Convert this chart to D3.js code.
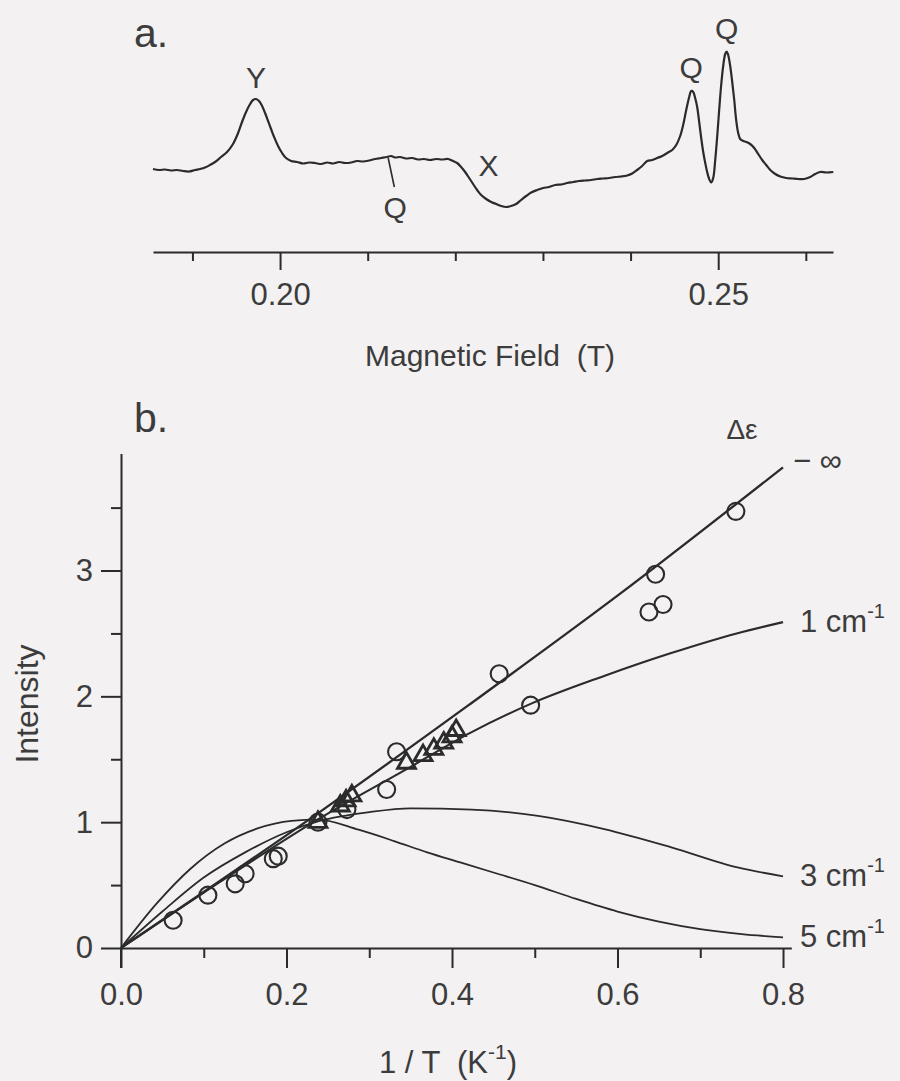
<!DOCTYPE html>
<html><head><meta charset="utf-8">
<script src="https://cdn.jsdelivr.net/npm/d3@7"></script>
<style>
body{margin:0;background:#f3f1f2;}
svg{display:block;background:#f3f1f2;}
text{font-family:"Liberation Sans",Arial,Helvetica,sans-serif;fill:#3c3c3c;white-space:pre;}
</style>
</head><body>
<svg id="chart" width="900" height="1081"></svg>
<script>
// ---------- Panel a: EPR spectrum ----------
const fieldT = [0.18550,0.18619,0.18687,0.18756,0.18824,0.18893,0.18961,0.19030,0.19087,0.19144,0.19201,0.19258,0.19326,0.19395,0.19463,0.19521,0.19566,0.19612,0.19658,0.19692,0.19726,0.19760,0.19795,0.19829,0.19863,0.19897,0.19932,0.19977,0.20023,0.20068,0.20126,0.20194,0.20263,0.20331,0.20400,0.20468,0.20537,0.20605,0.20674,0.20742,0.20811,0.20879,0.20947,0.21016,0.21084,0.21153,0.21221,0.21267,0.21313,0.21370,0.21438,0.21507,0.21575,0.21644,0.21712,0.21781,0.21849,0.21918,0.21975,0.22021,0.22066,0.22112,0.22158,0.22203,0.22249,0.22295,0.22352,0.22409,0.22466,0.22523,0.22580,0.22637,0.22694,0.22751,0.22808,0.22865,0.22934,0.23002,0.23071,0.23139,0.23208,0.23276,0.23345,0.23413,0.23482,0.23550,0.23619,0.23687,0.23756,0.23824,0.23893,0.23961,0.24018,0.24075,0.24132,0.24189,0.24247,0.24304,0.24361,0.24418,0.24475,0.24521,0.24566,0.24600,0.24635,0.24669,0.24692,0.24715,0.24737,0.24760,0.24783,0.24806,0.24829,0.24852,0.24874,0.24897,0.24920,0.24943,0.24966,0.24989,0.25011,0.25034,0.25057,0.25080,0.25097,0.25114,0.25137,0.25160,0.25183,0.25205,0.25228,0.25251,0.25285,0.25320,0.25365,0.25411,0.25457,0.25502,0.25548,0.25594,0.25651,0.25708,0.25776,0.25845,0.25913,0.25982,0.26050,0.26107,0.26164,0.26233,0.26313];
const signal = [1,0,0.5,-0.5,0,-1,-1.5,0,1,2.5,5,8,13,18,26,37,48,58,66,70,71,69,64,57,49,41,33,24,17,12,9,8,6.5,7.5,7,6,7.5,6.5,8,7,7.5,9,8.5,9.5,11,12,13,14,12.5,13,11.5,12,10.5,11,10,11,10.5,11,9,7,3,-2,-8,-14,-20,-25,-29,-32,-34,-36,-37,-36,-34,-30,-26,-22.5,-20,-18,-17,-15,-14.5,-13,-12,-11,-10.5,-10,-9,-8.5,-8,-7,-6.5,-5.5,-3.5,0,4,9,10,12,14,17,20,25,34,45,60,73,79,78,72,63,48,32,18,7,-2,-9,-12.5,-8,10,34,60,85,104,116,118.5,115,104,88,70,50,37,31,29,28,26,22,16,10,5,0,-4,-6.5,-8,-8.5,-9,-9,-7,-4,-2,-2.5,-2];
const fieldTicks = [0.19,0.20,0.21,0.22,0.23,0.24,0.25,0.26];
const fieldTickLabels = ["","0.20","","","","","0.25",""];
const peakLabels = ["Y","Q","X","Q","Q"];
const peakFields = [0.19726,0.21313,0.22380,0.24692,0.25097];
const peakSignals = [82,-48,-6,92,131];

// ---------- Panel b: intensity vs 1/T ----------
const invT = [0,0.1,0.2,0.3,0.4,0.5,0.6,0.7,0.8];
const invTLabels = ["0.0","","0.2","","0.4","","0.6","","0.8"];
const intensityTicks = [0,0.5,1,1.5,2,2.5,3,3.5];
const intensityLabels = ["0","","1","","2","","3",""];

const curveInfX = [0,0.24,0.42,0.6,0.8];
const curveInfY = [0,1.08,1.93,2.80,3.82];
const curve1X = [0,0.1,0.24,0.35,0.422,0.495,0.583,0.663,0.744,0.80];
const curve1Y = [0,0.44,1.03,1.44,1.71,1.94,2.16,2.34,2.50,2.59];
const curve3X = [0,0.05,0.1,0.15,0.2,0.24,0.3,0.35,0.424,0.504,0.584,0.665,0.745,0.80];
const curve3Y = [0,0.29,0.56,0.76,0.92,1.01,1.08,1.11,1.10,1.05,0.945,0.80,0.64,0.57];
const curve5X = [0,0.044,0.084,0.125,0.165,0.206,0.238,0.287,0.33,0.37,0.41,0.45,0.5,0.55,0.6,0.65,0.7,0.75,0.80];
const curve5Y = [0,0.36,0.63,0.83,0.95,1.01,1.02,0.94,0.85,0.76,0.68,0.60,0.50,0.39,0.29,0.21,0.15,0.11,0.085];
const curveNames = ["\u2212 \u221e","1 cm","3 cm","5 cm"];

const circleX = [0.063,0.105,0.138,0.150,0.184,0.190,0.238,0.273,0.321,0.333,0.457,0.495,0.638,0.655,0.646,0.743];
const circleY = [0.22,0.42,0.51,0.59,0.71,0.73,1.00,1.10,1.26,1.56,2.18,1.93,2.67,2.73,2.97,3.47];
const triX = [0.238,0.265,0.272,0.279,0.345,0.365,0.378,0.390,0.400,0.405];
const triY = [1.00,1.13,1.17,1.21,1.47,1.53,1.58,1.63,1.68,1.73];

// ===================================================
const svg = d3.select("#chart");
const ink = "#2b2b2b";

// ---- Panel a ----
const xa = d3.scaleLinear().domain([0.1855,0.2631]).range([153,833]);
const ya = d3.scaleLinear().domain([-40,120]).range([210,50]);
const ga = svg.append("g");
const spec = fieldT.map((f,i)=>[f,signal[i]]);
ga.append("path").datum(spec)
  .attr("d", d3.line().x(d=>xa(d[0])).y(d=>ya(d[1])).curve(d3.curveCatmullRom))
  .attr("fill","none").attr("stroke",ink).attr("stroke-width",2.2).attr("stroke-linejoin","round");

const axA = ga.append("g").attr("transform","translate(0,252)")
  .call(d3.axisBottom(xa).tickValues(fieldTicks).tickFormat((d,i)=>fieldTickLabels[i]).tickSizeOuter(0).tickPadding(12));
axA.select(".domain").attr("stroke",ink).attr("stroke-width",2);
axA.selectAll(".tick line").attr("stroke",ink).attr("stroke-width",2)
  .attr("y2",(d,i)=>fieldTickLabels[i]?18:9);
axA.selectAll(".tick text").attr("font-size",31).attr("fill","#3c3c3c")
  .attr("font-family","Liberation Sans, Arial, sans-serif")
  .attr("y",31).attr("dy","0.71em");

ga.append("text").attr("x",490).attr("y",366).attr("text-anchor","middle").attr("font-size",30)
  .text("Magnetic Field  (T)");
ga.append("text").attr("x",134).attr("y",47).attr("font-size",41).text("a.");

peakLabels.forEach((t,i)=>{
  ga.append("text").attr("x",xa(peakFields[i])).attr("y",ya(peakSignals[i]))
    .attr("text-anchor","middle").attr("font-size",30).text(t);
});
ga.append("line").attr("x1",xa(0.21234)).attr("y1",ya(12)).attr("x2",xa(0.21304)).attr("y2",ya(-17))
  .attr("stroke",ink).attr("stroke-width",1.6);

// ---- Panel b ----
const xb = d3.scaleLinear().domain([0,0.81]).range([121,791.3]);
const yb = d3.scaleLinear().domain([0,3.93]).range([948,453.5]);
const gb = svg.append("g");

const axX = gb.append("g").attr("transform","translate(0,948)")
  .call(d3.axisBottom(xb).tickValues(invT).tickFormat((d,i)=>invTLabels[i]).tickSizeOuter(0).tickPadding(12));
axX.select(".domain").attr("stroke",ink).attr("stroke-width",2);
axX.selectAll(".tick line").attr("stroke",ink).attr("stroke-width",2)
  .attr("y2",(d,i)=>invTLabels[i]?20:10);
axX.selectAll(".tick text").attr("font-size",31).attr("fill","#3c3c3c")
  .attr("font-family","Liberation Sans, Arial, sans-serif").attr("y",35).attr("dy","0.71em");

const axY = gb.append("g").attr("transform","translate(121,0)")
  .call(d3.axisLeft(yb).tickValues(intensityTicks).tickFormat((d,i)=>intensityLabels[i]).tickSizeOuter(0).tickPadding(10));
axY.select(".domain").attr("stroke",ink).attr("stroke-width",2);
axY.selectAll(".tick line").attr("stroke",ink).attr("stroke-width",2)
  .attr("x2",(d,i)=>intensityLabels[i]?-20:-10);
axY.selectAll(".tick text").attr("font-size",31).attr("fill","#3c3c3c")
  .attr("font-family","Liberation Sans, Arial, sans-serif").attr("x",-28);
gb.append("line").attr("x1",xb(0)).attr("x2",xb(0)).attr("y1",yb(0)).attr("y2",yb(0)+20)
  .attr("stroke",ink).attr("stroke-width",2);

const lineB = d3.line().x(d=>xb(d[0])).y(d=>yb(d[1])).curve(d3.curveMonotoneX);
const curves = [[curveInfX,curveInfY,2.3],[curve1X,curve1Y,2.1],[curve3X,curve3Y,1.8],[curve5X,curve5Y,1.8]];
curves.forEach(([cx,cy,w])=>{
  gb.append("path").datum(cx.map((v,i)=>[v,cy[i]])).attr("d",lineB)
    .attr("fill","none").attr("stroke",ink).attr("stroke-width",w);
});

gb.selectAll("circle.pt").data(circleX.map((v,i)=>[v,circleY[i]])).enter().append("circle")
  .attr("cx",d=>xb(d[0])).attr("cy",d=>yb(d[1])).attr("r",8.5)
  .attr("fill","none").attr("stroke",ink).attr("stroke-width",2.1);
const tri = d3.symbol().type(d3.symbolTriangle).size(140);
gb.selectAll("path.tri").data(triX.map((v,i)=>[v,triY[i]])).enter().append("path")
  .attr("d",tri).attr("transform",d=>`translate(${xb(d[0])},${yb(d[1])})`)
  .attr("fill","none").attr("stroke",ink).attr("stroke-width",2.8);

const endY = [curveInfY[curveInfY.length-1],curve1Y[curve1Y.length-1],curve3Y[curve3Y.length-1],curve5Y[curve5Y.length-1]];
curveNames.forEach((n,i)=>{
  const t = gb.append("text").attr("x",i===0?793:800).attr("y",yb(endY[i])+(i===0?4:10)).attr("font-size",31);
  t.append("tspan").text(n);
  if(i>0) t.append("tspan").attr("dy",-14).attr("font-size",20).text("-1");
});
gb.append("text").attr("x",742).attr("y",439).attr("text-anchor","middle").attr("font-size",28)
  .attr("font-family","Liberation Serif, Times New Roman, serif").text("\u0394\u03b5");

gb.append("text").attr("x",134).attr("y",432).attr("font-size",41).text("b.");
gb.append("text").attr("transform","translate(38,704) rotate(-90)").attr("text-anchor","middle")
  .attr("font-size",32).text("Intensity");
const xt = gb.append("text").attr("x",448).attr("y",1073).attr("text-anchor","middle").attr("font-size",31);
xt.append("tspan").text("1 / T  (K");
xt.append("tspan").attr("dy",-14).attr("font-size",21).text("-1");
xt.append("tspan").attr("dy",14).text(")");
</script>
</body></html>
